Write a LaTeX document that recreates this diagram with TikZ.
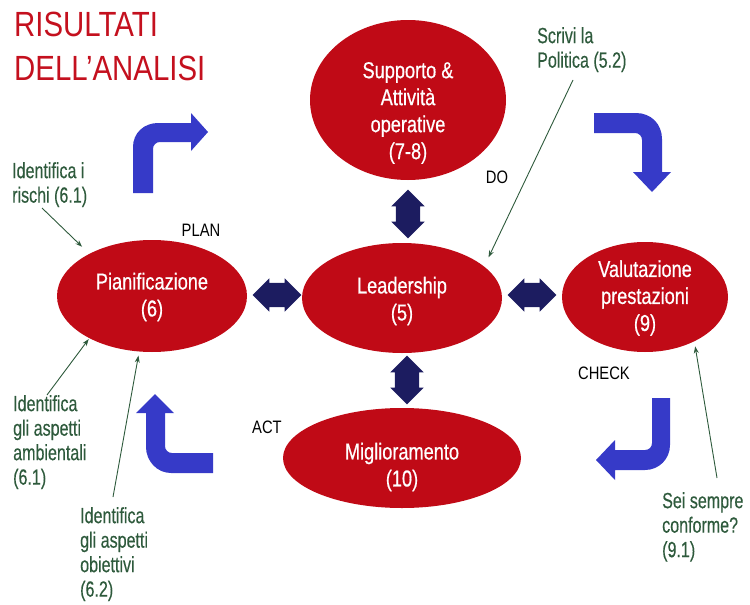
\documentclass[tikz,border=0pt]{standalone}
\usepackage{fontspec}
\setmainfont[FakeStretch=0.8]{Liberation Sans}
\newfontfamily\ellfont[FakeStretch=0.79,FakeBold=0.6]{Liberation Sans}
\newfontfamily\greenfont[FakeStretch=0.73,FakeBold=0.3]{Liberation Sans}
\newfontfamily\titlefont[FakeStretch=0.84]{Liberation Sans}
\newfontfamily\lblfont[FakeStretch=0.82]{Liberation Sans}
\usetikzlibrary{shapes.geometric,shapes.arrows,arrows.meta,calc}
\definecolor{ellred}{RGB}{192,10,22}
\definecolor{titred}{RGB}{196,16,30}
\definecolor{bentblue}{RGB}{54,58,200}
\definecolor{navy}{RGB}{28,28,96}
\definecolor{annogreen}{RGB}{46,90,60}
\tikzset{
  ell/.style={ellipse, fill=ellred, draw=none, inner sep=0pt},
  etext/.style={text=white, align=center, inner sep=0pt, font=\ellfont\fontsize{23}{27}\selectfont},
  anno/.style={text=annogreen, align=left, inner sep=0pt, anchor=north west, font=\greenfont\fontsize{22}{24.5}\selectfont},
  phase/.style={text=black, inner sep=0pt, font=\lblfont\fontsize{18}{20}\selectfont},
  dbl/.style={double arrow, fill=navy, draw=none, inner sep=12pt, double arrow head extend=4.5pt, minimum height=45pt},
  bent/.style={fill=bentblue, draw=none},
  annoline/.style={draw=annogreen, line width=0.9pt, -{Stealth[length=7pt,width=5pt]}},
}
\begin{document}
\begin{tikzpicture}[x=1pt,y=-1pt]
\useasboundingbox (0,0) rectangle (750,605);
% title
\node[text=titred, align=left, inner sep=0pt, anchor=north west, font=\titlefont\fontsize{35}{44}\selectfont] (title) at (14,12) {RISULTATI\\DELL’ANALISI};
% ellipses
\node[ell, minimum width=196pt, minimum height=160pt] (sup) at (408,100) {};
\node[etext] (supt) at (408,113) {Supporto \&\\Attività\\operative\\(7-8)};
\node[ell, minimum width=200pt, minimum height=110pt] (lead) at (402,298) {};
\node[etext] (leadt) at (402,301) {Leadership\\(5)};
\node[ell, minimum width=190pt, minimum height=112pt] (pia) at (152,296) {};
\node[etext] (piat) at (152,297) {Pianificazione\\(6)};
\node[ell, minimum width=166pt, minimum height=110pt] (val) at (645,297) {};
\node[etext] (valt) at (645,298) {Valutazione\\prestazioni\\(9)};
\node[ell, minimum width=238pt, minimum height=100pt] (mig) at (402,458) {};
\node[etext] (migt) at (402,467) {Miglioramento\\(10)};
% double arrows
\node[dbl, rotate=90] (d1) at (408,214) {};
\node[dbl, rotate=90] (d2) at (407,380) {};
\node[dbl] (d3) at (277,295) {};
\node[dbl] (d4) at (532,295) {};
% bent arrows
\fill[bent] (133,193) -- (133,147) .. controls (133,133) and (144,123) .. (158,123) -- (191,123) -- (191,113) -- (208,132) -- (191,151) -- (191,142) -- (160,142) .. controls (156,142) and (153,145) .. (153,149) -- (153,193) -- cycle;
\fill[bent] (594,113) -- (636,113) .. controls (651,113) and (662,124) .. (662,139) -- (662,172) -- (671,172) -- (652,192) -- (633,172) -- (642,172) -- (642,140) .. controls (642,136) and (639,133) .. (635,133) -- (594,133) -- cycle;
\fill[bent] (652,398) -- (670,398) -- (670,445) .. controls (670,459) and (659,470) .. (645,470) -- (615,470) -- (615,480) -- (596,460) -- (615,440) -- (615,450) -- (645,450) .. controls (649,450) and (652,447) .. (652,443) -- cycle;
\fill[bent] (213,453) -- (172,453) .. controls (168,453) and (165,450) .. (165,446) -- (165,413) -- (174,413) -- (155,394) -- (136,413) -- (146,413) -- (146,447) .. controls (146,461) and (157,473) .. (171,473) -- (213,473) -- cycle;
% phase labels
\node[phase] (plan) at (201,230) {PLAN};
\node[phase] (do) at (497,177) {DO};
\node[phase] (check) at (604,373) {CHECK};
\node[phase] (act) at (267,427) {ACT};
% annotations
\node[anno] (rischi) at (12,162) {Identifica i\\rischi (6.1)};
\node[anno] (pol) at (537,27) {Scrivi la\\Politica (5.2)};
\node[anno] (amb) at (13,395) {Identifica\\gli aspetti\\ambientali\\(6.1)};
\node[anno] (obi) at (80,507) {Identifica\\gli aspetti\\obiettivi\\(6.2)};
\node[anno] (sei) at (662,492) {Sei sempre\\conforme?\\(9.1)};
% annotation lines
\coordinate (rischiS) at (42,208);
\coordinate (polS) at (573,80);
\coordinate (ambS) at (47,395);
\coordinate (obiS) at (113,497);
\coordinate (seiS) at (717,478);
\draw[annoline, shorten >=10pt] (rischiS) -- (pia.146);
\draw[annoline, shorten >=10pt] (polS) -- (lead.21);
\draw[annoline, shorten >=1pt] (ambS) -- (pia.214);
\draw[annoline, shorten >=4pt] (obiS) -- (pia.257);
\draw[annoline, shorten >=5pt] (seiS) -- (val.-42);
\end{tikzpicture}
\end{document}
